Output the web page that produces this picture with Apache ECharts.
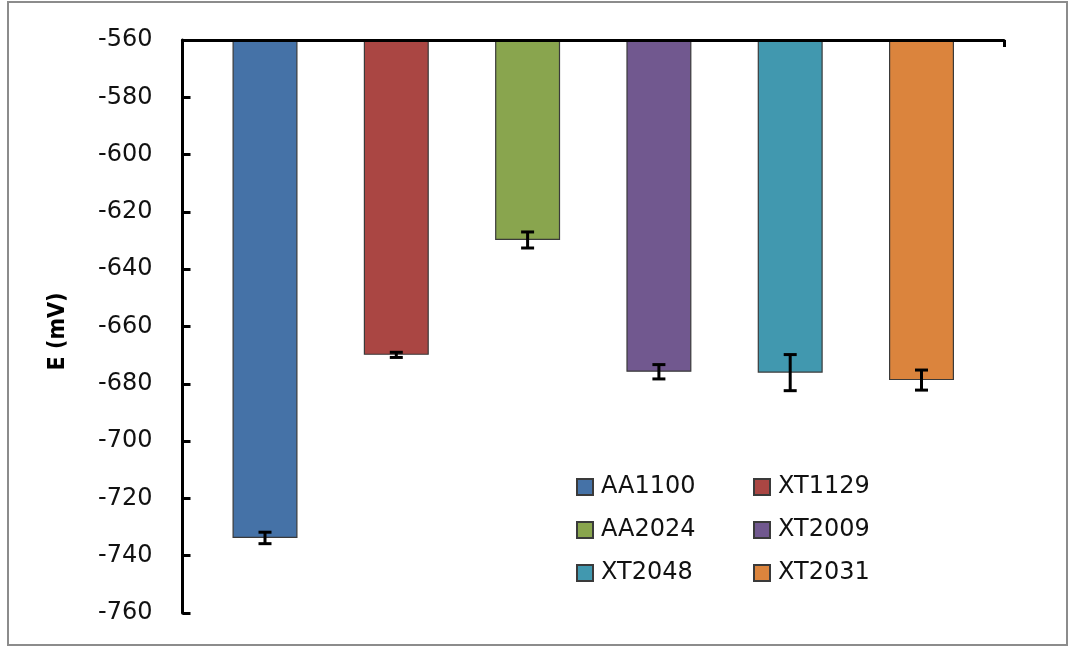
<!DOCTYPE html>
<html>
<head>
<meta charset="utf-8">
<script src="https://cdn.jsdelivr.net/npm/echarts@6/dist/echarts.min.js"></script>
<style>
html,body{margin:0;padding:0;background:#fff;}
#chart{width:1072px;height:647px;}
</style>
</head>
<body>
<div id="chart"></div>
<script>
// ---- data ----
var seriesNames = ['AA1100', 'XT1129', 'AA2024', 'XT2009', 'XT2048', 'XT2031'];
var seriesValues = [-733.8, -669.9, -629.8, -675.8, -676.1, -678.7];
var seriesErrors = [2.0, 0.9, 2.8, 2.5, 6.3, 3.5];
var seriesColors = ['#4572A7', '#AA4643', '#89A54E', '#71588F', '#4198AF', '#DB843D'];
var yMin = -760, yMax = -560, yStep = 20;
var axisName = 'E (mV)';

var BAR_W = 65, BAR_GAP = 1.02;
var FONT = 'DejaVu Sans';

var chart = echarts.init(document.getElementById('chart'));

var series = seriesNames.map(function (n, i) {
  var s = {
    name: n,
    type: 'bar',
    data: [seriesValues[i]],
    barWidth: BAR_W,
    itemStyle: { color: seriesColors[i], borderColor: '#3a3a3a', borderWidth: 1.2 },
    clip: true
  };
  if (i === seriesNames.length - 1) s.barGap = (BAR_GAP * 100) + '%';
  return s;
});

var errData = seriesNames.map(function (n, i) {
  return [0, seriesValues[i], seriesErrors[i], i];
});

series.push({
  type: 'custom',
  name: 'err',
  data: errData,
  z: 5,
  renderItem: function (params, api) {
    var mean = api.value(1), err = api.value(2), idx = api.value(3);
    var step = BAR_W * (1 + BAR_GAP);
    var off = (idx - (seriesNames.length - 1) / 2) * step;
    var top = api.coord([0, mean + err]);
    var bot = api.coord([0, mean - err]);
    var x = top[0] + off;
    var cap = 6.5;
    var st = { stroke: '#000', lineWidth: 3 };
    return {
      type: 'group',
      children: [
        { type: 'line', shape: { x1: x, y1: top[1], x2: x, y2: bot[1] }, style: st },
        { type: 'line', shape: { x1: x - cap, y1: top[1], x2: x + cap, y2: top[1] }, style: st },
        { type: 'line', shape: { x1: x - cap, y1: bot[1], x2: x + cap, y2: bot[1] }, style: st }
      ]
    };
  }
});

function legendFor(names, left) {
  return {
    orient: 'vertical',
    left: left,
    top: 473,
    padding: 0,
    itemWidth: 16,
    itemHeight: 16,
    itemGap: 15,
    icon: 'rect',
    data: names,
    textStyle: { fontFamily: FONT, fontSize: 24, color: '#111', lineHeight: 28, padding: [0, 0, 0, 3] }
  };
}

var option = {
  animation: false,
  backgroundColor: '#fff',
  grid: { left: 182.5, right: 68, top: 40, bottom: 34, containLabel: false },
  legend: [
    legendFor([seriesNames[0], seriesNames[2], seriesNames[4]], 576),
    legendFor([seriesNames[1], seriesNames[3], seriesNames[5]], 753)
  ],
  xAxis: {
    type: 'category',
    data: [''],
    position: 'top',
    z: 10,
    axisLine: { show: true, onZero: false, lineStyle: { color: '#000', width: 3 } },
    axisTick: { show: true, inside: true, length: 7, lineStyle: { color: '#000', width: 3 } },
    axisLabel: { show: false }
  },
  yAxis: {
    type: 'value',
    min: yMin,
    max: yMax,
    interval: yStep,
    z: 10,
    name: axisName,
    nameLocation: 'middle',
    nameGap: 113,
    nameTextStyle: { fontFamily: 'DejaVu Sans Condensed', fontWeight: 'bold', fontSize: 23, color: '#000', padding: [0, 10, 0, 0] },
    axisLine: { show: true, lineStyle: { color: '#000', width: 3 } },
    axisTick: { show: true, inside: true, length: 8, lineStyle: { color: '#000', width: 3 } },
    axisLabel: { margin: 30, fontFamily: FONT, fontSize: 24, color: '#111' },
    splitLine: { show: false }
  },
  graphic: [{
    type: 'rect',
    silent: true,
    z: 100,
    shape: { x: 8, y: 2, width: 1059, height: 643 },
    style: { fill: 'none', stroke: '#8c8c8c', lineWidth: 2 }
  }],
  series: series
};

chart.setOption(option);
</script>
</body>
</html>
